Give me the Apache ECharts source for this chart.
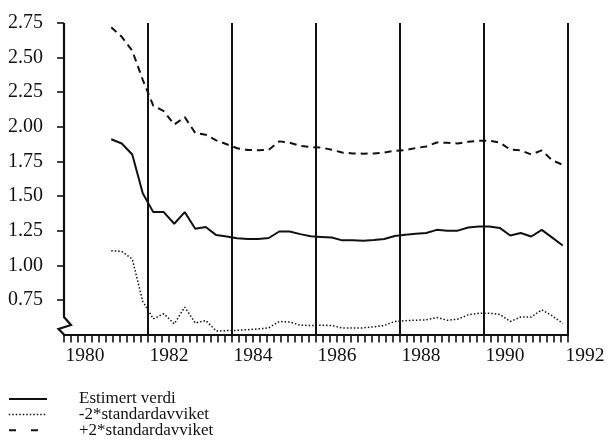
<!DOCTYPE html>
<html>
<head>
<meta charset="utf-8">
<script src="https://cdn.jsdelivr.net/npm/echarts@6/dist/echarts.min.js"></script>
<style>
html,body{margin:0;padding:0;background:#fff;}
#chart{width:610px;height:442px;}
</style>
</head>
<body>
<div id="chart"></div>
<script>
// Quarterly periods
const periods = [
 '1981Q1','1981Q2','1981Q3','1981Q4','1982Q1','1982Q2','1982Q3','1982Q4',
 '1983Q1','1983Q2','1983Q3','1983Q4','1984Q1','1984Q2','1984Q3','1984Q4',
 '1985Q1','1985Q2','1985Q3','1985Q4','1986Q1','1986Q2','1986Q3','1986Q4',
 '1987Q1','1987Q2','1987Q3','1987Q4','1988Q1','1988Q2','1988Q3','1988Q4',
 '1989Q1','1989Q2','1989Q3','1989Q4','1990Q1','1990Q2','1990Q3','1990Q4',
 '1991Q1','1991Q2','1991Q3','1991Q4'
];
const estimert = [
 1.91,1.88,1.80,1.52, 1.384,1.384,1.30,1.384,
 1.264,1.276,1.218,1.208, 1.195,1.19,1.19,1.197,
 1.244,1.244,1.225,1.21, 1.205,1.20,1.18,1.18,
 1.178,1.182,1.19,1.212, 1.22,1.228,1.233,1.256,
 1.25,1.25,1.273,1.28, 1.28,1.27,1.215,1.233,
 1.208,1.256,1.20,1.143
];
const minus2sd = [
 1.105,1.10,1.045,0.74, 0.613,0.65,0.577,0.698,
 0.583,0.601,0.525,0.528, 0.53,0.535,0.54,0.548,
 0.594,0.59,0.567,0.565, 0.567,0.565,0.547,0.546,
 0.548,0.555,0.565,0.594, 0.60,0.603,0.606,0.623,
 0.603,0.611,0.642,0.654, 0.654,0.645,0.594,0.626,
 0.626,0.678,0.635,0.58
];
const plus2sd = [
 2.72,2.65,2.55,2.34, 2.153,2.113,2.017,2.07,
 1.955,1.943,1.902,1.874, 1.845,1.833,1.83,1.834,
 1.895,1.885,1.863,1.854, 1.85,1.835,1.814,1.808,
 1.806,1.808,1.814,1.827, 1.832,1.847,1.858,1.887,
 1.885,1.88,1.892,1.90, 1.90,1.887,1.835,1.83,
 1.80,1.83,1.758,1.726
];
const xTickLabels = ['1980','1982','1984','1986','1988','1990','1992'];
const yTickLabels = ['0.75','1.00','1.25','1.50','1.75','2.00','2.25','2.50','2.75'];
const boundaryYears = [1982,1984,1986,1988,1990,1992];
const seriesNames = ['Estimert verdi','-2*standardavviket','+2*standardavviket'];
const legendDash = ['solid', [1.5,2], [7,15]];

function periodToX(p){
  const y = parseInt(p.slice(0,4),10), q = parseInt(p.slice(5),10);
  return y + (q - 0.5)/4;
}
function pairs(vals){ return periods.map((p,i)=>[periodToX(p), vals[i]]); }

const FONT = 'Liberation Serif';
const INK = '#111';

const xLabelValues = xTickLabels.map(s => {
  const y = parseInt(s,10);
  return y === 1992 ? 1992 : y + 0.5;
});
const xTickValues = [];
for (let i = 0; i <= 72; i++) xTickValues.push(1980 + i/6);
const yValues = yTickLabels.map(Number);

const legendTops = [390.5, 406.1, 421.7];
const legends = seriesNames.map((n, i) => ({
  orient:'vertical', left:8, top:legendTops[i], padding:0,
  itemWidth:38, itemHeight:8, itemGap:0,
  itemStyle:{opacity:0},
  lineStyle:{type:legendDash[i], width: i === 1 ? 1.5 : 2, color:INK},
  textStyle:{fontFamily:FONT, fontSize:17, color:INK, padding:[0,0,0,27]},
  selectedMode:false,
  data:[{name:n}]
}));

const chart = echarts.init(document.getElementById('chart'), null, {renderer:'canvas'});
const option = {
  animation:false,
  backgroundColor:'#fff',
  grid:{left:64, right:42, top:23, bottom:107.5, containLabel:false},
  xAxis:{
    type:'value', min:1980, max:1992,
    axisLine:{show:true, onZero:false, lineStyle:{color:INK, width:2.2}},
    axisTick:{show:true, length:8, inside:false, customValues:xTickValues, lineStyle:{color:INK, width:1.6}},
    splitLine:{show:false},
    axisLabel:{
      show:true, customValues:xLabelValues, margin:11.5,
      fontFamily:FONT, fontSize:19.5, color:INK,
      formatter:function(v){
        const s = String(Math.floor(v + 1e-6));
        return v === 1992 ? '{r|' + s + '}' : s;
      },
      rich:{r:{fontFamily:FONT, fontSize:19.5, color:INK, padding:[0,0,0,34]}}
    }
  },
  yAxis:{
    type:'value', min:0.5, max:2.75,
    axisLine:{show:false},
    axisTick:{show:true, length:7, inside:false, customValues:yValues, lineStyle:{color:INK, width:1.6}},
    splitLine:{show:false},
    axisLabel:{
      show:true, customValues:yValues, margin:21,
      fontFamily:FONT, fontSize:20, color:INK,
      formatter:function(v){ return v.toFixed(2); }
    }
  },
  legend:legends,
  series:[
    {
      name:seriesNames[0], type:'line', data:pairs(estimert), symbol:'none',
      lineStyle:{color:INK, width:2, type:'solid'}, itemStyle:{color:INK},
      markLine:{
        silent:true, symbol:['none','none'], label:{show:false},
        lineStyle:{color:INK, width:2, type:'solid'},
        emphasis:{disabled:true},
        data: boundaryYears.map(y => ({xAxis:y}))
      }
    },
    {
      name:seriesNames[1], type:'line', data:pairs(minus2sd), symbol:'none',
      lineStyle:{color:INK, width:1.5, type:[1.5,2]}, itemStyle:{color:INK}
    },
    {
      name:seriesNames[2], type:'line', data:pairs(plus2sd), symbol:'none',
      lineStyle:{color:INK, width:2, type:[7,5]}, itemStyle:{color:INK}
    }
  ]
};
chart.setOption(option);

// y-axis line with the axis-break zigzag near the origin
const pTop = chart.convertToPixel({gridIndex:0}, [1980, 2.75]);
const pBot = chart.convertToPixel({gridIndex:0}, [1980, 0.5]);
const x0 = pTop[0], yb = pBot[1];
chart.setOption({
  graphic:[{
    type:'polyline', silent:true,
    shape:{points:[[x0, pTop[1]], [x0, yb-17.5], [x0+7, yb-9.5], [x0-5.5, yb-5.5], [x0, yb]]},
    style:{stroke:INK, lineWidth:2.2, fill:null}
  }]
});
</script>
</body>
</html>
